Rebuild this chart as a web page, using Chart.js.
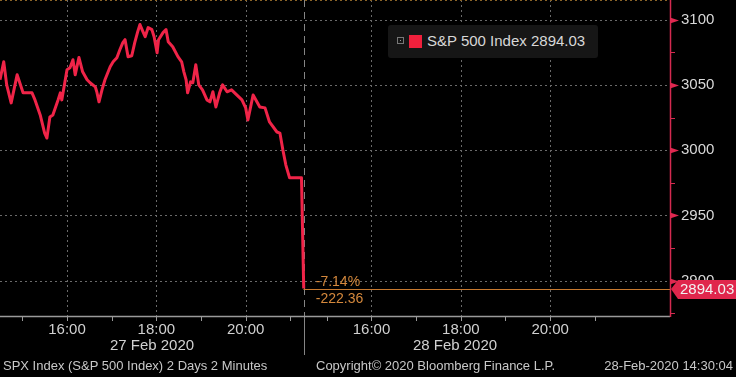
<!DOCTYPE html>
<html>
<head>
<meta charset="utf-8">
<script src="https://cdn.jsdelivr.net/npm/chart.js@4.4.1/dist/chart.umd.min.js"></script>
<style>
  body { margin: 0; background: #000; }
  #wrap { position: relative; width: 736px; height: 377px; background: #000; overflow: hidden;
          font-family: "Liberation Sans", Arial, sans-serif; color: #d0d0d0; }
  #legend { position: absolute; left: 388px; top: 25px; width: 210px; height: 33px;
            background: #161616; border-radius: 3px; font-size: 15px; }
  #legend .ico { position: absolute; left: 9px; top: 12px; width: 5px; height: 5px; border: 1px solid #777; }
  #legend .ico i { position: absolute; left: 2px; top: 2px; width: 1px; height: 1px; background: #999; }
  #legend .sq { position: absolute; left: 21px; top: 10px; width: 13px; height: 13px; background: #f0203c; }
  #legend .txt { position: absolute; left: 39px; top: 7px; white-space: nowrap; color: #d8d8d8; }
  .date { position: absolute; top: 336px; font-size: 15px; width: 120px; text-align: center; color: #d0d0d0; }
  .foot { position: absolute; top: 358px; font-size: 13px; color: #c8c8c8; white-space: nowrap; }
</style>
</head>
<body>
<div id="wrap">
  <canvas id="Chart1" width="736" height="377"></canvas>
  <div id="legend"><span class="ico"><i></i></span><span class="sq"></span><span class="txt">S&amp;P 500 Index 2894.03</span></div>
  <div class="date" style="left:92px">27 Feb 2020</div>
  <div class="date" style="left:395px">28 Feb 2020</div>
  <div class="foot" style="left:3px">SPX Index (S&amp;P 500 Index) 2 Days 2 Minutes</div>
  <div class="foot" style="left:316px">Copyright© 2020 Bloomberg Finance L.P.</div>
  <div class="foot" style="right:3px">28-Feb-2020 14:30:04</div>
</div>
<script>
// minutes of trading time since 27 Feb 14:30 (28 Feb session starts at 409)
let minutes = [0, 5, 9, 15, 23, 31, 43, 47, 54, 60, 63, 67, 71, 78, 81, 83, 87, 90, 94, 98,
    101, 106, 111, 117, 121, 128, 130, 133, 137, 141, 148, 152, 157, 161, 165, 168, 172, 177, 181, 185,
    188, 192, 195, 199, 204, 207, 211, 213, 219, 223, 226, 232, 239, 244, 247, 250, 252, 256, 259, 263,
    267, 272, 278, 282, 286, 290, 295, 299, 305, 311, 318, 325, 330, 333, 340, 349, 356, 362, 372, 376,
    380, 384, 389, 405, 408];
let prices = [3053.9, 3067.7, 3050.0, 3036.2, 3057.7, 3043.9, 3043.9, 3038.5, 3027.0, 3013.1, 3009.3, 3025.4, 3027.0, 3038.5, 3043.9, 3038.5, 3051.6, 3061.6, 3063.1, 3069.3,
    3057.7, 3071.0, 3060.0, 3053.9, 3051.6, 3048.5, 3044.7, 3037.0, 3046.2, 3053.9, 3063.9, 3067.7, 3070.8, 3076.9, 3082.3, 3084.6, 3071.6, 3072.3, 3082.3, 3090.8,
    3096.2, 3090.8, 3086.9, 3093.9, 3092.3, 3086.9, 3074.6, 3084.6, 3090.0, 3092.3, 3083.1, 3079.2, 3071.6, 3067.7, 3060.0, 3053.9, 3043.9, 3052.3, 3051.6, 3065.4,
    3050.0, 3046.2, 3038.5, 3037.0, 3044.7, 3033.1, 3043.9, 3050.0, 3044.7, 3046.2, 3042.3, 3038.5, 3032.4, 3023.1, 3042.3, 3033.1, 3032.4, 3021.6, 3013.9, 3013.1,
    3000.1, 2988.6, 2978.8, 2978.8, 2894.03];

let tickMinutes = [30, 90, 150, 210, 270, 330, 390, 439, 499, 559, 619, 679, 739, 799];
let tickLabels = ['', '16:00', '', '18:00', '', '20:00', '', '', '16:00', '', '18:00', '', '20:00', ''];
let gridMinutes = [90, 210, 330, 499, 619, 739];
let dividerMinute = 408;

let priceTicks = [2875, 2900, 2925, 2950, 2975, 3000, 3025, 3050, 3075, 3100];
let priceLabels = ['', '2900', '', '2950', '', '3000', '', '3050', '', '3100'];

let lastPrice = 2894.03;
let changePct = '-7.14%';
let changeAbs = '-222.36';

let points = minutes.map((m, i) => ({x: m, y: prices[i]}));

let bloomberg = {
    id: 'bloomberg',
    beforeDatasetsDraw(chart) {
        let c = chart.ctx, a = chart.chartArea;
        let xs = chart.scales.x, ys = chart.scales.y;
        c.save();
        c.lineWidth = 1;

        // dotted grid
        c.strokeStyle = '#6a6a6a';
        c.setLineDash([2, 3]);
        priceTicks.forEach((v, i) => {
            if (!priceLabels[i]) return;
            let y = Math.round(ys.getPixelForValue(v)) + 0.5;
            c.beginPath(); c.moveTo(a.left, y); c.lineTo(a.right, y); c.stroke();
        });
        gridMinutes.forEach(m => {
            let x = Math.round(xs.getPixelForValue(m)) + 0.5;
            c.beginPath(); c.moveTo(x, a.top); c.lineTo(x, a.bottom); c.stroke();
        });

        // top border
        c.strokeStyle = '#8a6428';
        c.beginPath(); c.moveTo(a.left, a.top + 0.5); c.lineTo(a.right, a.top + 0.5); c.stroke();

        // day divider
        let dx = Math.round(xs.getPixelForValue(dividerMinute)) + 0.5;
        c.strokeStyle = '#858585';
        c.setLineDash([7, 5]);
        c.beginPath(); c.moveTo(dx, a.top); c.lineTo(dx, a.bottom); c.stroke();
        c.setLineDash([]);
        c.beginPath(); c.moveTo(dx, a.bottom); c.lineTo(dx, a.bottom + 39); c.stroke();

        // last price line
        let ly = Math.round(ys.getPixelForValue(lastPrice)) + 0.5;
        c.strokeStyle = '#c87a30';
        c.beginPath(); c.moveTo(dx - 1, ly); c.lineTo(a.right, ly); c.stroke();

        // bottom axis + hour ticks
        c.strokeStyle = '#9a9a9a';
        c.lineWidth = 1.5;
        c.beginPath(); c.moveTo(a.left, a.bottom + 0.5); c.lineTo(a.right, a.bottom + 0.5); c.stroke();
        c.lineWidth = 1;
        tickMinutes.forEach(m => {
            let x = Math.round(xs.getPixelForValue(m)) + 0.5;
            c.beginPath(); c.moveTo(x, a.bottom + 1); c.lineTo(x, a.bottom + 5); c.stroke();
        });

        // right axis
        c.strokeStyle = '#d42a50';
        c.fillStyle = '#e02850';
        c.lineWidth = 1.5;
        c.beginPath(); c.moveTo(a.right + 0.5, a.top); c.lineTo(a.right + 0.5, a.bottom + 1); c.stroke();
        c.lineWidth = 1;
        priceTicks.forEach((v, i) => {
            let y = Math.round(ys.getPixelForValue(v)) + 0.5;
            if (priceLabels[i]) {
                c.beginPath(); c.moveTo(a.right, y - 3); c.lineTo(a.right + 9, y); c.lineTo(a.right, y + 3); c.closePath(); c.fill();
            } else {
                c.beginPath(); c.moveTo(a.right, y); c.lineTo(a.right + 5, y); c.stroke();
            }
        });
        c.restore();
    },
    afterDraw(chart) {
        let c = chart.ctx, a = chart.chartArea;
        let xs = chart.scales.x, ys = chart.scales.y;
        let ly = Math.round(ys.getPixelForValue(lastPrice));
        let dx = xs.getPixelForValue(dividerMinute);
        c.save();
        c.font = '14px "Liberation Sans", Arial, sans-serif';
        c.fillStyle = '#d4883c';
        c.textBaseline = 'middle';
        c.fillText(changePct, dx + 12, ly - 7);
        c.fillText(changeAbs, dx + 12, ly + 10);

        // last price tag
        c.fillStyle = '#e0264c';
        c.beginPath();
        c.moveTo(a.right + 1, ly);
        c.lineTo(a.right + 8, ly - 9);
        c.lineTo(736, ly - 9);
        c.lineTo(736, ly + 10);
        c.lineTo(a.right + 8, ly + 10);
        c.closePath();
        c.fill();
        c.font = '15px "Liberation Sans", Arial, sans-serif';
        c.fillStyle = '#f2f2f2';
        c.fillText(lastPrice.toFixed(2), a.right + 10, ly + 1);
        c.restore();
    }
};

let config = {
    type: 'line',
    data: {
        datasets: [{
            label: 'S&P 500 Index',
            data: points,
            borderColor: '#f02448',
            borderWidth: 3,
            pointRadius: 0,
            tension: 0,
            borderJoinStyle: 'round',
        }]
    },
    options: {
        responsive: false,
        animation: false,
        devicePixelRatio: 1,
        layout: {padding: 0},
        plugins: {legend: {display: false}, tooltip: {enabled: false}},
        scales: {
            x: {
                type: 'linear', min: 0, max: 900,
                afterBuildTicks: s => { s.ticks = tickMinutes.map(v => ({value: v})); },
                afterFit: s => { s.height = 61; s.paddingLeft = 0; s.paddingRight = 0; },
                grid: {display: false, drawTicks: false},
                border: {display: false},
                ticks: {
                    autoSkip: false, maxRotation: 0, padding: 5,
                    color: '#d0d0d0',
                    font: {family: '"Liberation Sans", Arial, sans-serif', size: 15},
                    callback: v => tickLabels[tickMinutes.indexOf(v)] || ''
                }
            },
            y: {
                position: 'right', min: 2873, max: 3115,
                afterBuildTicks: s => { s.ticks = priceTicks.map(v => ({value: v})); },
                afterFit: s => { s.width = 66; s.paddingTop = 0; s.paddingBottom = 0; },
                grid: {display: false, drawTicks: false},
                border: {display: false},
                ticks: {
                    padding: 11,
                    color: '#d8d8d8',
                    font: {family: '"Liberation Sans", Arial, sans-serif', size: 15},
                    callback: v => priceLabels[priceTicks.indexOf(v)] || ''
                }
            }
        }
    },
    plugins: [bloomberg]
};

let ctx = document.getElementById('Chart1');
let myChart = new Chart(ctx, config);
</script>
</body>
</html>
